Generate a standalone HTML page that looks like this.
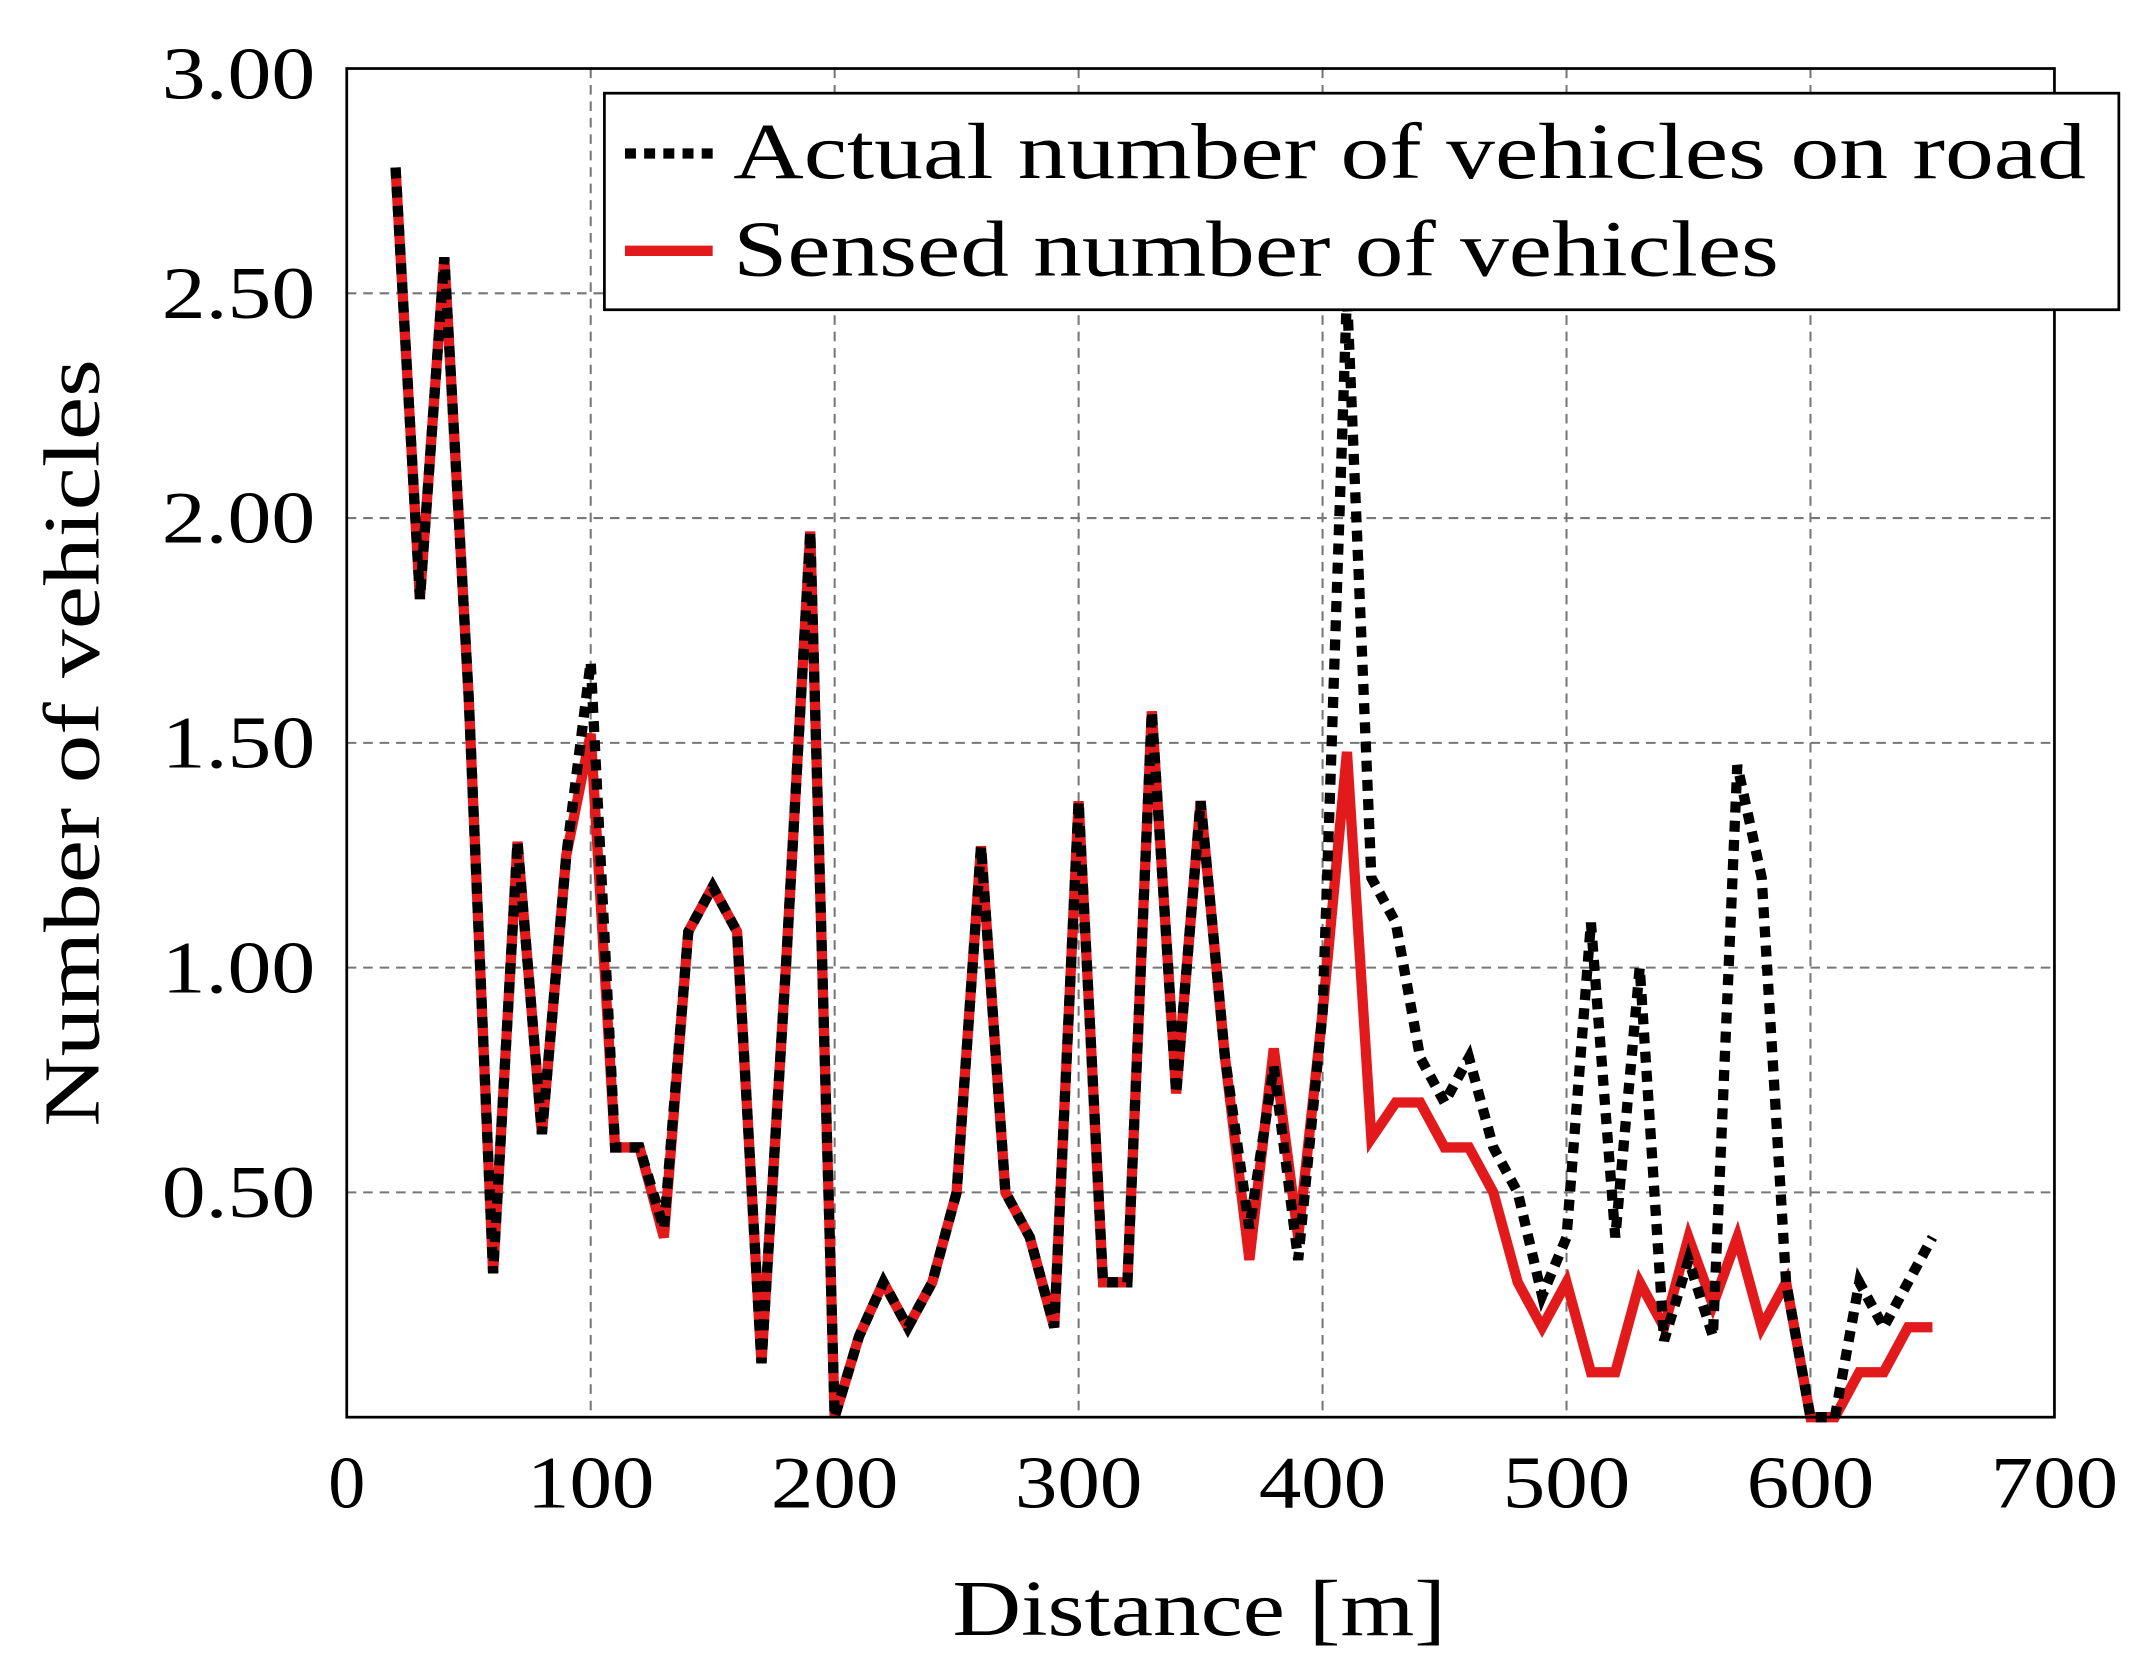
<!DOCTYPE html>
<html><head><meta charset="utf-8"><style>html,body{margin:0;padding:0;background:#fff}svg{display:block}</style></head>
<body>
<svg width="2149" height="1678" viewBox="0 0 1568 1224.3" preserveAspectRatio="none" xmlns="http://www.w3.org/2000/svg" font-family="'Liberation Serif', serif">
<rect width="1568" height="1225" fill="#fff"/>
<g stroke="#777" stroke-width="1.5" stroke-dasharray="7 5" fill="none">
<line x1="431" y1="50" x2="431" y2="1034"/><line x1="609" y1="50" x2="609" y2="1034"/>
<line x1="787" y1="50" x2="787" y2="1034"/><line x1="965" y1="50" x2="965" y2="1034"/>
<line x1="1143" y1="50" x2="1143" y2="1034"/><line x1="1321" y1="50" x2="1321" y2="1034"/>
<line x1="253" y1="870" x2="1499" y2="870"/><line x1="253" y1="706" x2="1499" y2="706"/>
<line x1="253" y1="542" x2="1499" y2="542"/><line x1="253" y1="378" x2="1499" y2="378"/>
<line x1="253" y1="214" x2="1499" y2="214"/>
</g>
<polyline fill="none" stroke="#e31a1c" stroke-width="7.5" points="288.6,122.2 306.4,437 324.2,187.8 342,509.2 359.8,929 377.6,614.2 395.4,827.4 413.2,624 431,535.4 448.8,837.2 466.6,837.2 484.4,902.8 502.2,679.8 520,647 537.8,679.8 555.6,994.6 573.4,706 591.2,387.8 609,1034 626.8,975 644.6,935.6 662.4,968.4 680.2,935.6 698,870 715.8,617.4 733.6,870 751.4,902.8 769.2,968.4 787,584.6 804.8,935.6 822.6,935.6 840.4,519 858.2,797.8 876,584.6 893.8,771.6 911.6,919.2 929.4,765 947.2,902.8 965,738.8 982.8,548.6 1000.6,830.6 1018.4,804.4 1036.2,804.4 1054,837.2 1071.8,837.2 1089.6,870 1107.4,935.6 1125.2,968.4 1143,935.6 1160.8,1001.2 1178.6,1001.2 1196.4,935.6 1214.2,968.4 1232,902.8 1249.8,952 1267.6,902.8 1285.4,968.4 1303.2,935.6 1321,1034 1338.8,1034 1356.6,1001.2 1374.4,1001.2 1392.2,968.4 1410,968.4"/>
<polyline fill="none" stroke="#000" stroke-width="7.5" stroke-dasharray="8 6" points="288.6,122.2 306.4,437 324.2,187.8 342,509.2 359.8,929 377.6,614.2 395.4,827.4 413.2,624 431,483 448.8,837.2 466.6,837.2 484.4,896.2 502.2,679.8 520,647 537.8,679.8 555.6,994.6 573.4,706 591.2,387.8 609,1034 626.8,975 644.6,935.6 662.4,968.4 680.2,935.6 698,870 715.8,617.4 733.6,870 751.4,902.8 769.2,968.4 787,584.6 804.8,935.6 822.6,935.6 840.4,519 858.2,797.8 876,584.6 893.8,771.6 911.6,896.2 929.4,778.2 947.2,919.2 965,738.8 982.8,214 1000.6,640.4 1018.4,673.2 1036.2,771.6 1054,804.4 1071.8,771.6 1089.6,837.2 1107.4,870 1125.2,945.4 1143,902.8 1160.8,673.2 1178.6,902.8 1196.4,706 1214.2,978.2 1232,919.2 1249.8,975 1267.6,558.4 1285.4,640.4 1303.2,935.6 1321,1034 1338.8,1034 1356.6,935.6 1374.4,968.4 1392.2,935.6 1410,902.8"/>
<rect x="253" y="50" width="1246" height="984" fill="none" stroke="#000" stroke-width="2"/>
<g font-size="54" fill="#000" text-anchor="middle">
<text x="253" y="1100">0</text><text x="431" y="1100" textLength="93" lengthAdjust="spacingAndGlyphs">100</text><text x="609" y="1100" textLength="93" lengthAdjust="spacingAndGlyphs">200</text><text x="787" y="1100" textLength="93" lengthAdjust="spacingAndGlyphs">300</text><text x="965" y="1100" textLength="93" lengthAdjust="spacingAndGlyphs">400</text><text x="1143" y="1100" textLength="93" lengthAdjust="spacingAndGlyphs">500</text><text x="1321" y="1100" textLength="93" lengthAdjust="spacingAndGlyphs">600</text><text x="1499" y="1100" textLength="93" lengthAdjust="spacingAndGlyphs">700</text>
</g>
<g font-size="54" fill="#000">
<text x="118" y="888" textLength="112" lengthAdjust="spacingAndGlyphs">0.50</text><text x="118" y="724" textLength="112" lengthAdjust="spacingAndGlyphs">1.00</text><text x="118" y="560" textLength="112" lengthAdjust="spacingAndGlyphs">1.50</text><text x="118" y="396" textLength="112" lengthAdjust="spacingAndGlyphs">2.00</text><text x="118" y="232" textLength="112" lengthAdjust="spacingAndGlyphs">2.50</text><text x="118" y="72" textLength="112" lengthAdjust="spacingAndGlyphs">3.00</text>
</g>
<text x="695" y="1193" font-size="58" textLength="360" lengthAdjust="spacingAndGlyphs">Distance [m]</text>
<text transform="translate(72,822) rotate(-90)" font-size="58" textLength="560" lengthAdjust="spacingAndGlyphs">Number of vehicles</text>
<rect x="441" y="68" width="1105" height="158" fill="#fff" stroke="#000" stroke-width="2"/>
<line x1="456" y1="112" x2="520" y2="112" stroke="#000" stroke-width="7.5" stroke-dasharray="8 6"/>
<line x1="456" y1="183" x2="520" y2="183" stroke="#e31a1c" stroke-width="7.5"/>
<text x="535" y="130" font-size="58" textLength="987" lengthAdjust="spacingAndGlyphs">Actual number of vehicles on road</text>
<text x="535" y="201" font-size="58" textLength="763" lengthAdjust="spacingAndGlyphs">Sensed number of vehicles</text>
</svg>
</body></html>
